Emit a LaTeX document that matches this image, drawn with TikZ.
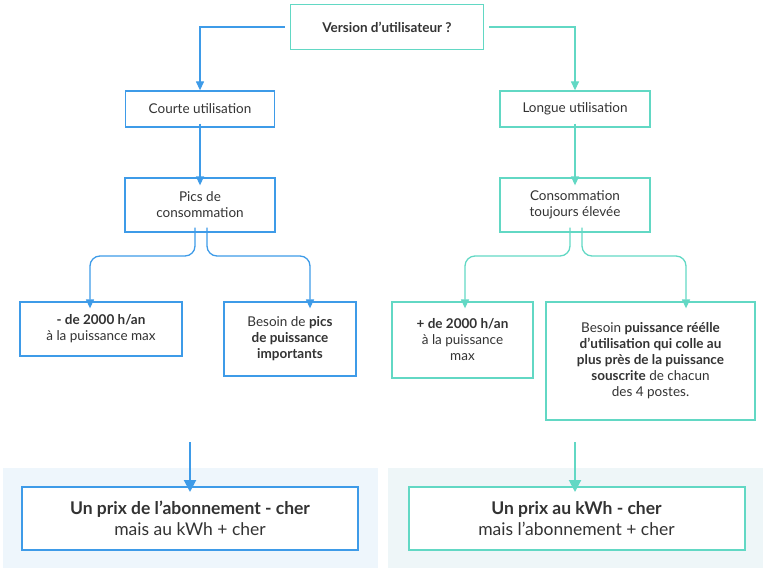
\documentclass[tikz,border=0pt]{standalone}
\usepackage{fontspec}
\setmainfont{Lato}
\usetikzlibrary{arrows.meta}
\definecolor{bl}{HTML}{3E9BE8}
\definecolor{tl}{HTML}{62D8C4}
\definecolor{tx}{HTML}{333333}
\definecolor{bgb}{HTML}{EEF6FC}
\definecolor{bgt}{HTML}{EEF6F8}
\begin{document}
\begin{tikzpicture}[x=1pt,y=-1pt,
 box/.style={draw=#1,line width=1.3pt,fill=white,text=tx,align=center,font=\fontsize{13.5}{16}\selectfont,inner sep=0pt,anchor=center},
 big/.style={draw=#1,line width=2pt,fill=white,text=tx,align=center,font=\fontsize{17.5}{21}\selectfont,inner sep=0pt,minimum width=336pt,minimum height=63pt},
 ar/.style={draw=#1,line width=1.3pt,-{Triangle[width=8pt,length=9pt]},rounded corners=10pt},
 bar/.style={draw=#1,line width=2pt,-{Triangle[width=12pt,length=12pt]}}]
\useasboundingbox (0,0) rectangle (767,572);
\fill[bgb] (3,468) rectangle (378,568);
\fill[bgt] (388,468) rectangle (763,568);
\node[box=tl,minimum width=193pt,minimum height=45pt] (top) at (387,27) {\bfseries Version d’utilisateur ?};
\node[box=bl,minimum width=149pt,minimum height=36pt] (cu) at (200,109) {Courte utilisation};
\node[box=tl,minimum width=150pt,minimum height=36pt] (lu) at (575,109) {Longue utilisation};
\node[box=bl,minimum width=150pt,minimum height=54pt] (pc) at (200,205) {Pics de\\consommation};
\node[box=tl,minimum width=150pt,minimum height=54pt] (ct) at (575,205) {Consommation\\toujours élevée};
\node[box=bl,minimum width=162pt,minimum height=54pt] (m1) at (101,329) {{\bfseries - de 2000 h/an}\\à la puissance max};
\node[box=bl,minimum width=132pt,minimum height=74pt] (b1) at (290,339) {Besoin de \textbf{pics}\\\textbf{de puissance}\\\textbf{importants}};
\node[box=tl,minimum width=141pt,minimum height=76pt] (p2) at (462.5,340) {{\bfseries + de 2000 h/an}\\à la puissance\\max};
\node[box=tl,minimum width=209pt,minimum height=118pt] (b2) at (650.5,361) {Besoin \textbf{puissance réélle}\\\textbf{d’utilisation qui colle au}\\\textbf{plus près de la puissance}\\\textbf{souscrite} de chacun\\des 4 postes.};
\node[big=bl] (r1) at (190,518.5) {\textbf{Un prix de l’abonnement - cher}\\mais au kWh + cher};
\node[big=tl] (r2) at (576.5,518.5) {\textbf{Un prix au kWh - cher}\\mais l’abonnement + cher};
\draw[ar=bl,rounded corners=0pt] (top.west)++(-5,0) -| (cu.north);
\draw[ar=tl,rounded corners=0pt] (top.east)++(5,0) -| (lu.north);
\draw[ar=bl] ([yshift=4pt]cu.south) -- ([yshift=-8pt]pc.north);
\draw[ar=tl] ([yshift=4pt]lu.south) -- ([yshift=-8pt]ct.north);
\draw[ar=bl] ([xshift=-5pt,yshift=5pt]pc.south) |- (150,256) -| ([yshift=-7pt]m1.north -| 90,0);
\draw[ar=bl] ([xshift=7pt,yshift=5pt]pc.south) |- (250,256) -| ([yshift=-7pt]b1.north -| 310,0);
\draw[ar=tl] ([xshift=-5pt,yshift=5pt]ct.south) |- (520,256) -| ([yshift=-7pt]p2.north -| 465,0);
\draw[ar=tl] ([xshift=7pt,yshift=5pt]ct.south) |- (630,256) -| ([yshift=-7pt]b2.north -| 686,0);
\coordinate (s1) at (190,442);
\coordinate (s2) at (575,442);
\draw[bar=bl] (s1) -- ([yshift=-6pt]r1.north -| s1);
\draw[bar=tl] (s2) -- ([yshift=-6pt]r2.north -| s2);
\end{tikzpicture}
\end{document}
